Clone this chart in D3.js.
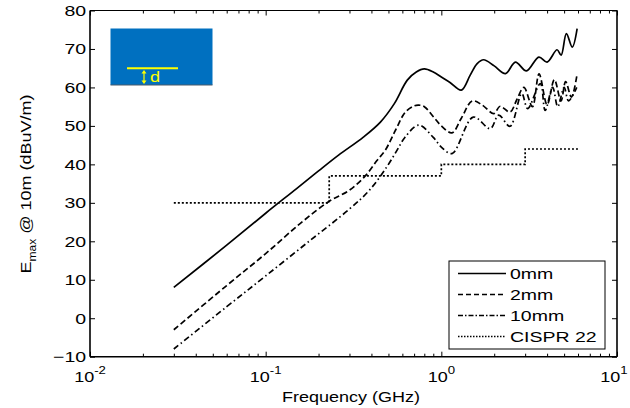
<!DOCTYPE html>
<html>
<head>
<meta charset="utf-8">
<script src="https://cdn.jsdelivr.net/npm/d3@7"></script>
<style>
body { margin: 0; background: #fff; }
text { font-family: "Liberation Sans", Arial, sans-serif; fill: #000; }
</style>
</head>
<body>
<div id="chart"></div>
<script>
// frequencies in GHz, field in dBuV/m
var freq0 = [0.03, 0.06, 0.1, 0.15, 0.2, 0.26, 0.36, 0.45, 0.54, 0.64, 0.72, 0.80, 0.90, 1.0, 1.12, 1.30, 1.46, 1.60, 1.74, 2.0, 2.32, 2.64, 3.05, 3.59, 4.0, 4.56, 4.81, 5.15, 5.56, 5.93];
var val0  = [8, 19, 27.3, 33.7, 38.3, 42.4, 47.1, 51, 55.8, 61.9, 64, 64.8, 64, 62.7, 61.3, 59.3, 63.2, 66.2, 67.2, 65.6, 63.6, 66.6, 64.3, 67.9, 66.6, 69.8, 68.4, 74, 70.5, 75.3];

var freq2 = [0.03, 0.06, 0.1, 0.157, 0.228, 0.30, 0.369, 0.43, 0.48, 0.55, 0.624, 0.70, 0.743, 0.80, 0.904, 1.0, 1.15, 1.30, 1.50, 1.70, 1.99, 2.16, 2.46, 2.7, 2.95, 3.3, 3.6, 4.0, 4.4, 4.8, 5.1, 5.5, 5.93];
var val2  = [-3, 8.5, 16.8, 24.6, 30.3, 33.3, 37, 41, 43.7, 49, 53.6, 55.2, 55.4, 55, 52.3, 50, 48.2, 52, 56.5, 55.5, 53.2, 55.1, 53.6, 57, 60, 55, 63.5, 55.5, 62, 56.5, 61.5, 57.5, 63.5];

var freq10 = [0.03, 0.06, 0.1, 0.18, 0.3, 0.39, 0.49, 0.56, 0.62, 0.743, 0.9, 1.0, 1.15, 1.52, 1.9, 2.12, 2.46, 2.87, 3.1, 3.66, 3.9, 4.3, 4.6, 5.0, 5.3, 5.9];
var val10  = [-8, 3, 11, 20.3, 28.4, 33.3, 39.4, 43.7, 47, 50.2, 47, 44.5, 42.8, 52.3, 49.3, 52.8, 49.9, 58.4, 54.5, 61, 54, 60, 55, 60, 56.5, 60];

var cisprFreq = [0.03, 0.23, 0.23, 1.0, 1.0, 3.0, 3.0, 6.0];
var cisprVal  = [30, 30, 37, 37, 40, 40, 44, 44];

var yTicks = [-10, 0, 10, 20, 30, 40, 50, 60, 70, 80];
var xDecades = [0.01, 0.1, 1, 10];
var xDecadeExp = ["-2", "-1", "0", "1"];
var legendLabels = ["0mm", "2mm", "10mm", "CISPR 22"];
var dashes = [null, "6,3", "6,3,1.5,3", "2,2"];

var width = 630, height = 408;
var margin = {top: 10.5, right: 13, bottom: 51.3, left: 90};
var stretch = 1.3;

var svg = d3.select("#chart").append("svg")
	.attr("width", width)
	.attr("height", height);

var x = d3.scaleLog()
	.domain([0.01, 10])
	.range([margin.left, width - margin.right]);

var y = d3.scaleLinear()
	.domain([-10, 80])
	.range([height - margin.bottom, margin.top]);

// minor ticks for log axis
var minor = [];
xDecades.slice(0, 3).forEach(function(d) {
	for (var k = 2; k <= 9; k++) minor.push(d * k);
});

function tickStyle(g) {
	g.select(".domain").remove();
	g.selectAll("line").attr("stroke", "#000").attr("stroke-width", 1);
}

// bottom
svg.append("g")
	.attr("transform", "translate(0," + y(-10) + ")")
	.call(d3.axisBottom(x).tickValues(xDecades).tickSizeInner(-5).tickSizeOuter(0).tickFormat(""))
	.call(tickStyle);
svg.append("g")
	.attr("transform", "translate(0," + y(-10) + ")")
	.call(d3.axisBottom(x).tickValues(minor).tickSizeInner(-3).tickSizeOuter(0).tickFormat(""))
	.call(tickStyle);
// top
svg.append("g")
	.attr("transform", "translate(0," + y(80) + ")")
	.call(d3.axisTop(x).tickValues(xDecades).tickSizeInner(-5).tickSizeOuter(0).tickFormat(""))
	.call(tickStyle);
svg.append("g")
	.attr("transform", "translate(0," + y(80) + ")")
	.call(d3.axisTop(x).tickValues(minor).tickSizeInner(-3).tickSizeOuter(0).tickFormat(""))
	.call(tickStyle);
// left with labels
svg.append("g")
	.attr("transform", "translate(" + x(0.01) + ",0)")
	.call(d3.axisLeft(y).tickValues(yTicks).tickSizeInner(-5).tickSizeOuter(0).tickPadding(3))
	.call(tickStyle)
	.selectAll("text")
		.style("font-size", "15px")
		.style("font-family", "Liberation Sans, Arial, sans-serif")
		.attr("transform", "scale(" + stretch + ",1)");
// right
svg.append("g")
	.attr("transform", "translate(" + x(10) + ",0)")
	.call(d3.axisRight(y).tickValues(yTicks).tickSizeInner(-5).tickSizeOuter(0).tickFormat(""))
	.call(tickStyle);

// box
svg.append("line").attr("x1", x(0.01)).attr("x2", x(10)).attr("y1", y(80)).attr("y2", y(80))
	.attr("stroke", "#000").attr("stroke-width", 1);
svg.append("line").attr("x1", x(0.01)).attr("x2", x(10)).attr("y1", y(-10)).attr("y2", y(-10))
	.attr("stroke", "#000").attr("stroke-width", 1.6);
svg.append("line").attr("x1", x(0.01)).attr("x2", x(0.01)).attr("y1", y(80)).attr("y2", y(-10))
	.attr("stroke", "#000").attr("stroke-width", 1.6);
svg.append("line").attr("x1", x(10)).attr("x2", x(10)).attr("y1", y(80)).attr("y2", y(-10))
	.attr("stroke", "#000").attr("stroke-width", 1.6);

// x tick labels 10^n
xDecades.forEach(function(d, i) {
	var shift = i == 3 ? -3 : 0;
	var t = svg.append("text")
		.attr("transform", "translate(" + (x(d) + shift) + "," + 382 + ") scale(1.2,1)")
		.attr("text-anchor", "middle")
		.style("font-size", "15px");
	t.append("tspan").text("10");
	t.append("tspan").attr("dy", -8).style("font-size", "11px").text(xDecadeExp[i]);
});

// axis titles
svg.append("text")
	.attr("transform", "translate(" + 351 + "," + 402 + ") scale(1.2,1)")
	.attr("text-anchor", "middle")
	.style("font-size", "15px")
	.text("Frequency (GHz)");

var yl = svg.append("text")
	.attr("transform", "translate(31,184) rotate(-90) scale(1.2,1)")
	.attr("text-anchor", "middle")
	.style("font-size", "15px");
yl.append("tspan").text("E");
yl.append("tspan").attr("dy", 5).style("font-size", "10px").text("max");
yl.append("tspan").attr("dy", -5).text(" @ 10m (dBuV/m)");

// curves
var line = d3.line()
	.x(function(d) { return x(d[0]); })
	.y(function(d) { return y(d[1]); })
	.curve(d3.curveCatmullRom.alpha(0.5));

var series = [
	d3.zip(freq0, val0),
	d3.zip(freq2, val2),
	d3.zip(freq10, val10)
];

series.forEach(function(s, i) {
	svg.append("path")
		.datum(s)
		.attr("d", line)
		.attr("fill", "none")
		.attr("stroke", "#000")
		.attr("stroke-width", 1.7)
		.attr("stroke-dasharray", dashes[i]);
});

svg.append("path")
	.datum(d3.zip(cisprFreq, cisprVal))
	.attr("d", d3.line().x(function(d) { return x(d[0]); }).y(function(d) { return y(d[1]); }))
	.attr("fill", "none")
	.attr("stroke", "#000")
	.attr("stroke-width", 1.7)
	.attr("stroke-dasharray", dashes[3]);

// legend
var lg = svg.append("g").attr("transform", "translate(449,261)");
lg.append("rect")
	.attr("width", 156).attr("height", 88)
	.attr("fill", "#fff").attr("stroke", "#000").attr("stroke-width", 1);
legendLabels.forEach(function(d, i) {
	var yy = 12.5 + i * 21;
	lg.append("line")
		.attr("x1", 9).attr("x2", 57).attr("y1", yy).attr("y2", yy)
		.attr("stroke", "#000").attr("stroke-width", 1.5)
		.attr("stroke-dasharray", dashes[i] == null ? null : (i == 3 ? "1.5,1.5" : (i == 1 ? "5,3" : "5,2,1.5,2")));
	lg.append("text")
		.attr("transform", "translate(61," + (yy + 5.5) + ") scale(" + stretch + ",1)")
		.style("font-size", "15px")
		.text(d);
});

// inset sketch
var ins = svg.append("g");
ins.append("rect")
	.attr("x", 110.5).attr("y", 28.5).attr("width", 102).attr("height", 56.5)
	.attr("fill", "#0070c0");
ins.append("line").attr("x1", 110.5).attr("x2", 212.5).attr("y1", 85).attr("y2", 85)
	.attr("stroke", "#4a5a6a").attr("stroke-width", 1);
ins.append("line").attr("x1", 127).attr("x2", 178).attr("y1", 68.3).attr("y2", 68.3)
	.attr("stroke", "#ffff00").attr("stroke-width", 2);
ins.append("line").attr("x1", 144).attr("x2", 144).attr("y1", 72).attr("y2", 82)
	.attr("stroke", "#ffff00").attr("stroke-width", 1.2);
ins.append("path").attr("d", "M141.5,73.5 L144,70 L146.5,73.5 Z M141.5,80.5 L144,84 L146.5,80.5 Z")
	.attr("fill", "#ffff00");
ins.append("text")
	.attr("transform", "translate(150,82) scale(" + stretch + ",1)")
	.style("font-size", "14px")
	.style("fill", "#ffff00")
	.text("d");
</script>
</body>
</html>
